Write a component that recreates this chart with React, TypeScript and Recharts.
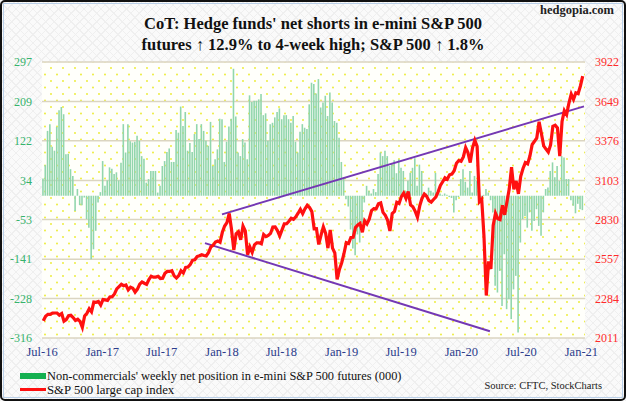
import React from "react";
import { ComposedChart, Bar, Line, XAxis, YAxis, CartesianGrid, ReferenceLine } from "recharts";

// weekly rows, CoT report weeks starting Tue Jul 5 2016
const firstWeek = Date.UTC(2016, 6, 5);
const WEEK = 7 * 86400000;

// non-commercials net position (000 contracts)
const net2016 = [38, 68, 144, 159, 109, 100, 153, 190, 197, 181, 92, 93, 59, 44, -34, 15, -21, -21, -4, -52, -71, -141, -119, -78, -15, 8];
const net2017 = [77, 22, 34, 63, 60, 48, 52, 34, 73, 159, 96, 159, 121, 118, 120, 133, 122, 88, 82, 29, 37, 55, 55, 55, 7, 22, 66, 77, 97, 105, 75, 75, 146, 140, 198, 155, 186, 100, 117, 97, 137, 159, 126, 159, 144, 122, 111, 164, 66, 81, 103, 171];
const net2018 = [170, 75, 120, 154, 171, 282, 176, 96, 88, 126, 118, 81, 223, 208, 211, 211, 214, 226, 179, 183, 122, 159, 162, 174, 186, 194, 170, 179, 179, 170, 162, 177, 120, 96, 142, 159, 151, 148, 203, 251, 248, 227, 259, 196, 207, 222, 177, 229, 207, 166, 162, 129];
const net2019 = [75, 40, -8, -24, -75, -117, -132, -86, -104, -60, -15, 22, 11, 5, 15, 8, 48, 96, 88, 100, 88, 66, 70, 79, 50, 81, 62, 55, 11, 33, 51, 62, 83, 22, 69, 55, 7, 5, 18, 11, 7, 51, 11, 5, 2, 5, 2, -3, -5, -37, -10, -3];
const net2020 = [37, 59, 31, 18, 55, 7, 44, 33, 0, -3, 2, 15, 7, -10, -37, -200, -215, -167, -245, -130, -252, -230, -274, -208, -178, -304, -104, -52, -45, -71, -37, -78, -56, -30, -67, -89, -37, 15, 18, 55, 74, 41, 66, 33, 88, 85, 37, 37, -10, -22, -39, -18, -30];
const net2021 = [-32];

// S&P 500 weekly close
const spx2016 = [2130, 2162, 2175, 2174, 2183, 2184, 2184, 2169, 2180, 2128, 2139, 2165, 2168, 2153, 2133, 2141, 2126, 2085, 2164, 2182, 2213, 2192, 2260, 2258, 2264, 2239];
const spx2017 = [2277, 2275, 2271, 2295, 2297, 2316, 2351, 2367, 2383, 2373, 2378, 2344, 2363, 2356, 2329, 2349, 2384, 2399, 2390, 2382, 2416, 2439, 2432, 2433, 2438, 2423, 2425, 2459, 2472, 2472, 2477, 2441, 2426, 2443, 2477, 2461, 2500, 2502, 2519, 2549, 2553, 2575, 2581, 2588, 2582, 2579, 2603, 2642, 2652, 2676, 2683, 2674];
const spx2018 = [2743, 2786, 2810, 2873, 2762, 2620, 2732, 2747, 2691, 2786, 2752, 2588, 2641, 2604, 2656, 2670, 2670, 2663, 2728, 2713, 2721, 2735, 2779, 2780, 2755, 2718, 2760, 2801, 2802, 2819, 2840, 2833, 2850, 2875, 2902, 2872, 2905, 2930, 2914, 2886, 2767, 2768, 2659, 2723, 2781, 2736, 2633, 2760, 2633, 2600, 2417, 2486];
const spx2019 = [2532, 2596, 2671, 2665, 2707, 2708, 2776, 2793, 2804, 2743, 2822, 2801, 2834, 2893, 2907, 2905, 2940, 2946, 2881, 2860, 2826, 2752, 2873, 2887, 2950, 2942, 2990, 3014, 2977, 3026, 2932, 2919, 2889, 2847, 2926, 2979, 3007, 2992, 2962, 2952, 2970, 2986, 3023, 3067, 3093, 3120, 3110, 3141, 3146, 3169, 3221, 3240];
const spx2020 = [3235, 3265, 3330, 3295, 3226, 3328, 3380, 3338, 2954, 2972, 2711, 2305, 2541, 2489, 2790, 2875, 2837, 2831, 2930, 2864, 2955, 3044, 3194, 3041, 3098, 3009, 3130, 3185, 3225, 3216, 3271, 3351, 3373, 3397, 3508, 3427, 3341, 3319, 3298, 3348, 3477, 3484, 3465, 3270, 3510, 3585, 3558, 3638, 3699, 3663, 3709, 3703, 3756];
const spx2021 = [3824];

const leftTicks = [-316, -228, -141, -53, 34, 122, 209, 297];
const rightTicks = [2011, 2284, 2557, 2830, 3103, 3376, 3649, 3922];
const dateTicks = [
  Date.UTC(2016, 6, 1), Date.UTC(2017, 0, 1), Date.UTC(2017, 6, 1), Date.UTC(2018, 0, 1), Date.UTC(2018, 6, 1),
  Date.UTC(2019, 0, 1), Date.UTC(2019, 6, 1), Date.UTC(2020, 0, 1), Date.UTC(2020, 6, 1), Date.UTC(2021, 0, 1),
];
const monthNames = ["Jan", "Feb", "Mar", "Apr", "May", "Jun", "Jul", "Aug", "Sep", "Oct", "Nov", "Dec"];

// hand drawn trend lines (S&P scale)
const upperTrend = [{ x: Date.UTC(2018, 0, 1), y: 2867 }, { x: Date.UTC(2021, 0, 9), y: 3615 }];
const lowerTrend = [{ x: Date.UTC(2017, 10, 10), y: 2668 }, { x: Date.UTC(2020, 2, 28), y: 2058 }];

const netAll = [...net2016, ...net2017, ...net2018, ...net2019, ...net2020, ...net2021];
const spxAll = [...spx2016, ...spx2017, ...spx2018, ...spx2019, ...spx2020, ...spx2021];
const data = netAll.map((v, i) => ({ t: firstWeek + i * WEEK, net: v, spx: spxAll[i] }));

const serif = "'Liberation Serif', 'Times New Roman', serif";

const fmtDate = (t: number) => {
  const d = new Date(t);
  return monthNames[d.getUTCMonth()] + "-" + String(d.getUTCFullYear()).slice(2);
};

export default function App() {
  return (
    <div
      style={{
        position: "relative",
        width: 626,
        height: 401,
        overflow: "hidden",
        fontFamily: serif,
        background:
          "repeating-linear-gradient(45deg, #efefef 0 1px, transparent 1px 6px), repeating-linear-gradient(-45deg, #efefef 0 1px, #fafafa 1px 6px)",
      }}
    >
      <style>{"body{margin:0}"}</style>
      <div style={{ position: "absolute", top: 3, right: 12, fontSize: 12.5, fontWeight: "bold", color: "#222" }}>
        hedgopia.com
      </div>
      <div
        style={{
          position: "absolute",
          top: 13,
          left: 0,
          width: 626,
          textAlign: "center",
          fontSize: 16.5,
          lineHeight: "21px",
          fontWeight: "bold",
          color: "#111",
        }}
      >
        <div>CoT: Hedge funds' net shorts in e-mini S&amp;P 500</div>
        <div>futures ↑ 12.9% to 4-week high; S&amp;P 500 ↑ 1.8%</div>
      </div>

      <div style={{ position: "absolute", left: 0, top: 0 }}>
        <ComposedChart width={626} height={368} data={data} margin={{ top: 62, right: 0, bottom: 0, left: 0 }}>
          <defs>
            <pattern id="dots" width="12" height="13" patternUnits="userSpaceOnUse">
              <rect width="12" height="13" fill="#fffffb" />
              <circle cx="3" cy="3" r="0.9" fill="#ebeb2a" />
              <circle cx="9" cy="9.5" r="0.9" fill="#ebeb2a" />
            </pattern>
          </defs>
          <CartesianGrid yAxisId="left" vertical={false} stroke="#dbd5c1" strokeWidth={1.5} fill="url(#dots)" fillOpacity={1} />
          <XAxis
            dataKey="t"
            type="number"
            domain={[Date.UTC(2016, 6, 1), Date.UTC(2021, 0, 12)]}
            ticks={dateTicks}
            tickFormatter={fmtDate}
            interval={0}
            allowDataOverflow
            axisLine={false}
            tickLine={false}
            tickSize={0}
            tickMargin={9}
            height={30}
            tick={{ fill: "#2c3c8c", fontSize: 12.5, fontFamily: serif }}
          />
          <YAxis
            yAxisId="left"
            domain={[-316, 297]}
            ticks={leftTicks}
            interval={0}
            allowDataOverflow
            width={42}
            axisLine={false}
            tickLine={false}
            tickSize={0}
            tickMargin={10}
            tick={{ fill: "#36b36c", fontSize: 12, fontFamily: serif }}
          />
          <YAxis
            yAxisId="right"
            orientation="right"
            domain={[2011, 3922]}
            ticks={rightTicks}
            interval={0}
            allowDataOverflow
            width={41}
            axisLine={false}
            tickLine={false}
            tickSize={0}
            tickMargin={10}
            tick={{ fill: "#ff2a2a", fontSize: 12, fontFamily: serif }}
          />
          <Bar yAxisId="left" dataKey="net" fill="#92d6ad" barSize={1.6} isAnimationActive={false} />
          <ReferenceLine yAxisId="right" segment={upperTrend} stroke="#7438b4" strokeWidth={2} ifOverflow="visible" />
          <ReferenceLine yAxisId="right" segment={lowerTrend} stroke="#7438b4" strokeWidth={2} ifOverflow="visible" />
          <Line yAxisId="right" type="linear" dataKey="spx" stroke="#ff1010" strokeWidth={3.2} dot={false} isAnimationActive={false} />
        </ComposedChart>
      </div>

      <div style={{ position: "absolute", left: 20, top: 373, width: 26, height: 6, background: "#14b050" }} />
      <div style={{ position: "absolute", left: 47, top: 368, fontSize: 12.4, lineHeight: "16px", color: "#111" }}>
        Non-commercials' weekly net position in e-mini S&amp;P 500 futures (000)
      </div>
      <div style={{ position: "absolute", left: 20, top: 388, width: 26, height: 3, background: "#ff1010" }} />
      <div style={{ position: "absolute", left: 47, top: 382, fontSize: 12.8, lineHeight: "16px", color: "#111" }}>
        S&amp;P 500 large cap index
      </div>
      <div style={{ position: "absolute", right: 24, top: 379, fontSize: 10.5, lineHeight: "14px", color: "#222" }}>
        Source: CFTC, StockCharts
      </div>

      <div style={{ position: "absolute", inset: 0, border: "2px solid #111", borderRadius: 5, pointerEvents: "none" }} />
      <div style={{ position: "absolute", inset: 3, border: "1px solid #b9cfe8", pointerEvents: "none" }} />
    </div>
  );
}
